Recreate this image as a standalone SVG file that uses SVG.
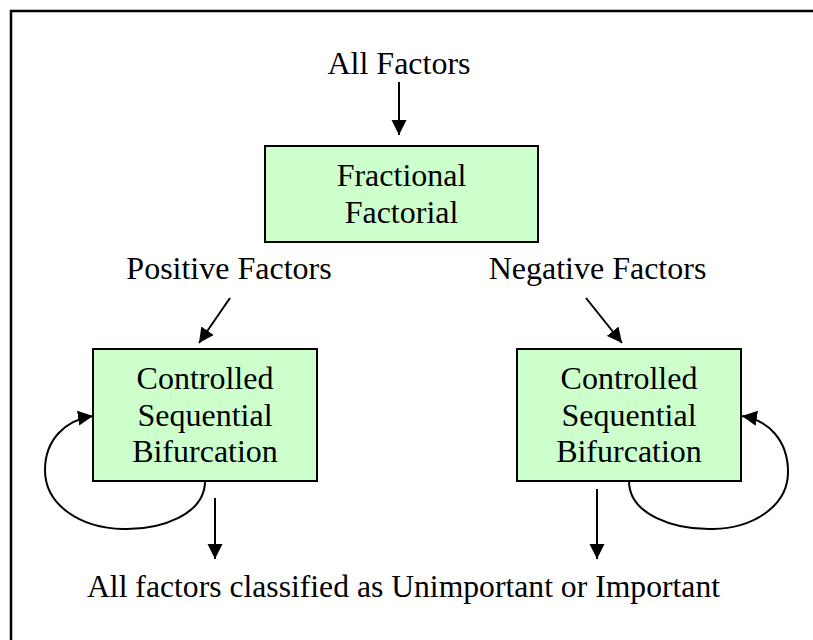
<svg xmlns="http://www.w3.org/2000/svg" width="813" height="640" viewBox="0 0 813 640">
<style>
  text { font-family: "Liberation Serif", "Times New Roman", serif; font-size: 32px; fill: #000; }
  .c { text-anchor: middle; }
  .box { fill: #ccffcc; stroke: #000; stroke-width: 2; }
  .ln { fill: none; stroke: #000; stroke-width: 2; }
</style>
<defs>
  <marker id="ah" markerUnits="userSpaceOnUse" markerWidth="16" markerHeight="16" viewBox="0 0 16 16" refX="15" refY="8" orient="auto">
    <path d="M0,0.5 L15,8 L0,15.5 Z" fill="#000"/>
  </marker>
</defs>
<rect width="813" height="640" fill="#fff"/>
<path d="M11,640 L11,11 L813,11" fill="none" stroke="#000" stroke-width="2.5"/>

<g id="connectors">
  <line class="ln" x1="399" y1="82" x2="399" y2="135" marker-end="url(#ah)"/>
  <line class="ln" x1="230" y1="298" x2="199" y2="343" marker-end="url(#ah)"/>
  <line class="ln" x1="586" y1="298" x2="622" y2="343" marker-end="url(#ah)"/>
  <line class="ln" x1="215" y1="498" x2="215" y2="559" marker-end="url(#ah)"/>
  <line class="ln" x1="597" y1="489" x2="597" y2="559" marker-end="url(#ah)"/>
  <path class="ln" d="M205,481 C205,515 160,530 123,529 C80,528 45,505 45,470 C45,440 65,420 93,416" marker-end="url(#ah)"/>
  <path class="ln" d="M629,481 C629,515 675,530 713,529 C755,528 788,505 788,472 C788,440 768,420 742,416" marker-end="url(#ah)"/>
</g>

<g id="all-factors">
  <text class="c" x="399" y="74">All Factors</text>
</g>
<g id="fractional-factorial">
  <rect class="box" x="265" y="146" width="273" height="96"/>
  <text class="c" x="401.5" y="186">Fractional</text>
  <text class="c" x="401.5" y="223">Factorial</text>
</g>
<g id="positive-factors">
  <text class="c" x="229" y="279">Positive Factors</text>
</g>
<g id="negative-factors">
  <text class="c" x="597.5" y="279">Negative Factors</text>
</g>
<g id="csb-left">
  <rect class="box" x="93" y="349" width="224" height="132"/>
  <text class="c" x="205" y="389">Controlled</text>
  <text class="c" x="205" y="426">Sequential</text>
  <text class="c" x="205" y="462">Bifurcation</text>
</g>
<g id="csb-right">
  <rect class="box" x="517" y="349" width="224" height="132"/>
  <text class="c" x="629" y="389">Controlled</text>
  <text class="c" x="629" y="426">Sequential</text>
  <text class="c" x="629" y="462">Bifurcation</text>
</g>
<g id="result">
  <text x="87" y="597" textLength="633" lengthAdjust="spacingAndGlyphs">All factors classified as Unimportant or Important</text>
</g>
</svg>
